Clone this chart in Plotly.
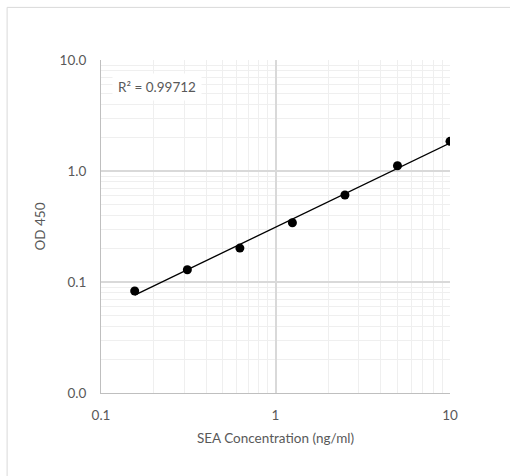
import numpy as np
import plotly.graph_objects as go

# SEA standard curve: concentration (ng/ml) vs optical density at 450 nm
concentration = [0.156, 0.3125, 0.625, 1.25, 2.5, 5.0, 10.0]
od450 = [0.083, 0.129, 0.202, 0.342, 0.608, 1.116, 1.85]

x_tick_vals = [0.1, 1, 10]
x_tick_text = ["0.1", "1", "10"]
y_tick_vals = [0.01, 0.1, 1, 10]
y_tick_text = ["0.0", "0.1", "1.0", "10.0"]
r_squared_label = "R² = 0.99712"

# Power-law trend line fitted in log-log space
lx = np.log10(concentration)
ly = np.log10(od450)
slope, intercept = np.polyfit(lx, ly, 1)
fit_x = np.logspace(lx.min(), lx.max(), 60)
fit_y = 10 ** (intercept + slope * np.log10(fit_x))

def minor_vals(lo_exp, hi_exp):
    vals = []
    for e in range(lo_exp, hi_exp):
        for m in range(2, 10):
            vals.append(m * 10 ** e)
    return vals

font_family = "Lato, 'Open Sans', sans-serif"
text_color = "#595959"
font_size = 13.5

fig = go.Figure()
fig.add_trace(go.Scatter(
    x=fit_x, y=fit_y, mode="lines",
    line=dict(color="#000000", width=1.3),
    hoverinfo="skip", showlegend=False,
))
fig.add_trace(go.Scatter(
    x=concentration, y=od450, mode="markers",
    marker=dict(color="#000000", size=9),
    showlegend=False,
))

axis_common = dict(
    type="log",
    showgrid=True,
    gridcolor="#d9d9d9",
    gridwidth=1.5,
    zeroline=False,
    showline=True,
    linecolor="#bfbfbf",
    linewidth=1,
    ticks="",
    tickfont=dict(family=font_family, size=font_size, color=text_color),
    title_font=dict(family=font_family, size=font_size, color=text_color),
)

fig.update_xaxes(
    **axis_common,
    range=[-1, 1],
    tickvals=x_tick_vals,
    ticktext=x_tick_text,
    ticklabelstandoff=10,
    minor=dict(tickvals=minor_vals(-1, 1), showgrid=True,
               gridcolor="#efefef", gridwidth=1, ticks=""),
    title_text="SEA Concentration (ng/ml)",
    title_standoff=11,
)
fig.update_yaxes(
    **axis_common,
    range=[-2, 1],
    tickvals=y_tick_vals,
    ticktext=y_tick_text,
    ticklabelstandoff=11,
    minor=dict(tickvals=minor_vals(-2, 1), showgrid=True,
               gridcolor="#efefef", gridwidth=1, ticks=""),
    title_text="OD 450",
    title_standoff=10,
)

fig.add_annotation(
    x=0.16, y=0.919, xref="x domain", yref="y domain",
    xanchor="center", yanchor="middle",
    text=r_squared_label, showarrow=False,
    font=dict(family=font_family, size=font_size, color=text_color),
    bgcolor="#ffffff", borderpad=5,
)

# Chart-area border (right and bottom edges fall outside the canvas)
fig.add_shape(
    type="rect", xref="paper", yref="paper",
    x0=-0.269, x1=1.2, y0=-0.3, y1=1.158,
    line=dict(color="#d9d9d9", width=1), layer="below",
)

fig.update_layout(
    width=510, height=476,
    margin=dict(l=101, r=60, t=60, b=83),
    paper_bgcolor="#ffffff",
    plot_bgcolor="#ffffff",
    font=dict(family=font_family, color=text_color),
)

fig.write_html("out.html")
